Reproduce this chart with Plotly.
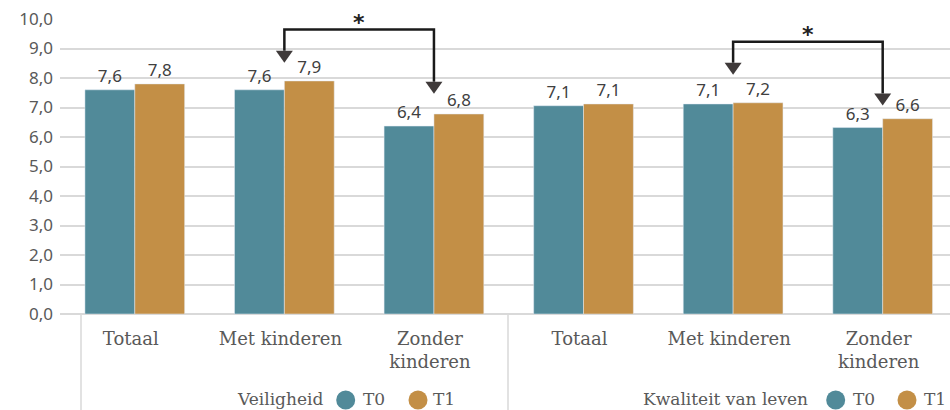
import plotly.graph_objects as go

categories = ["Totaal", "Met kinderen", "Zonder<br>kinderen",
              "Totaal", "Met kinderen", "Zonder<br>kinderen"]
groups = ["Veiligheid", "Kwaliteit van leven"]
series_names = ["T0", "T1"]
t0_values = [7.6, 7.6, 6.37, 7.06, 7.12, 6.32]
t1_values = [7.8, 7.9, 6.78, 7.12, 7.16, 6.62]
y_ticks = [0, 1, 2, 3, 4, 5, 6, 7, 8, 9, 10]
# significance brackets: (from category, to category, top, left tip, right tip)
brackets = [(1, 2, 9.64, 8.52, 7.47), (4, 5, 9.23, 8.11, 7.07)]

TEAL = "#518a99"
GOLD = "#c38f46"
GRID = "#d9d9d9"
W, H = 950, 410
L, R, T, B = 60, 0, 19, 96
PH = H - T - B
PW = W - L - R
SANS = "Noto Sans"
SERIF = "DejaVu Serif"

xs = list(range(len(categories)))

fig = go.Figure()
fig.add_trace(go.Bar(x=xs, y=t0_values, name=series_names[0], marker_color=TEAL,
                     texttemplate="%{y:.1f}", textposition="outside",
                     textfont=dict(family=SANS, size=17, color="#404040"),
                     cliponaxis=False))
fig.add_trace(go.Bar(x=xs, y=t1_values, name=series_names[1], marker_color=GOLD,
                     texttemplate="%{y:.1f}", textposition="outside",
                     textfont=dict(family=SANS, size=17, color="#404040"),
                     cliponaxis=False))


def px_x(p):
    return (p - L) / PW


def px_y(p):
    return (H - B - p) / PH


shapes = []
annotations = []
ux = PW / 5.95  # px per category unit
uy = PH / 10.0
hw = 8.5 / ux
th = 12.0 / uy
for (a, b, top, lt, rt) in brackets:
    shapes.append(dict(type="path", xref="x", yref="y",
                       path=f"M {a},{lt + th} L {a},{top} L {b},{top} L {b},{rt + th}",
                       line=dict(color="#1a1a1a", width=2.5)))
    for xx, tip in ((a, lt), (b, rt)):
        shapes.append(dict(type="path", xref="x", yref="y",
                           path=f"M {xx - hw},{tip + th} L {xx + hw},{tip + th} L {xx},{tip} Z",
                           fillcolor="#3f3a3a", line=dict(width=0)))
    annotations.append(dict(x=(a + b) / 2, y=top, xref="x", yref="y", text="<b>*</b>",
                            showarrow=False, yanchor="bottom", yshift=-7,
                            font=dict(family="DejaVu Sans", size=22, color="#222222")))

# separators below axis
for sx in (81, 508):
    shapes.append(dict(type="line", xref="paper", yref="paper",
                       x0=px_x(sx), x1=px_x(sx), y0=0, y1=px_y(412),
                       line=dict(color=GRID, width=1.5)))

# group labels with legend markers
legend_pos = [(325, 345.7, 361, 418, 431), (810, 835.7, 851, 907, 922)]
for g, (lab_r, c0, t0x, c1, t1x) in zip(groups, legend_pos):
    yc = px_y(399)
    annotations.append(dict(x=px_x(lab_r), y=yc, xref="paper", yref="paper", text=g,
                            showarrow=False, xanchor="right", yanchor="middle",
                            font=dict(family=SERIF, size=17, color="#595959")))
    for cx, tx, col, nm in ((c0, t0x, TEAL, series_names[0]), (c1, t1x, GOLD, series_names[1])):
        shapes.append(dict(type="circle", xref="paper", yref="paper",
                           xsizemode="pixel", ysizemode="pixel",
                           xanchor=px_x(cx), yanchor=px_y(400),
                           x0=-9.5, x1=9.5, y0=-9.5, y1=9.5,
                           fillcolor=col, line=dict(width=0)))
        annotations.append(dict(x=px_x(tx), y=yc, xref="paper", yref="paper", text=nm,
                                showarrow=False, xanchor="left", yanchor="middle",
                                font=dict(family=SERIF, size=17, color="#595959")))

fig.update_layout(
    width=W, height=H, margin=dict(l=L, r=R, t=T, b=B),
    barmode="group", bargap=1 / 3, bargroupgap=0,
    separators=",.",
    plot_bgcolor="white", paper_bgcolor="white",
    showlegend=False, shapes=shapes, annotations=annotations,
    xaxis=dict(range=[-0.5, 5.45], tickvals=xs, ticktext=categories,
               showgrid=False, zeroline=False, showline=False, ticks="",
               ticklabelstandoff=12, ticklabelshift=-4,
               tickfont=dict(family=SERIF, size=18, color="#595959")),
    yaxis=dict(range=[0, 10], tickvals=y_ticks, tickformat=".1f",
               showgrid=True, gridcolor=GRID, gridwidth=1.5,
               zeroline=True, zerolinecolor=GRID, zerolinewidth=1.5,
               showline=False, ticks="", ticklabelstandoff=6,
               tickfont=dict(family=SANS, size=17, color="#595959")),
)

fig.write_html("out.html", config={"displayModeBar": False},
               post_script="document.body.style.margin='0';document.body.style.overflow='hidden';")
